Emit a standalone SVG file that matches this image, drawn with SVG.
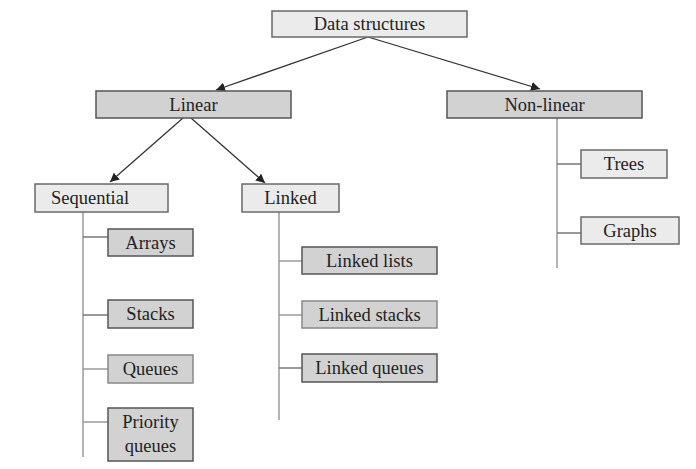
<svg xmlns="http://www.w3.org/2000/svg" width="696" height="469" viewBox="0 0 696 469">
<style>
.l{fill:#ebebeb;stroke:#6a6a6a;stroke-width:1.5}
.d{fill:#d2d2d2;stroke:#555;stroke-width:1.5}
text{font-family:"Liberation Serif","Times New Roman",serif;font-size:18.5px;fill:#222;text-anchor:middle}
.v{stroke:#9a9a9a;stroke-width:1.5;fill:none}
.b{stroke:#777;stroke-width:1.5;fill:none}
.a{stroke:#333;stroke-width:1.3;fill:none;marker-end:url(#ah)}
</style>
<defs>
<marker id="ah" viewBox="0 0 10 10" refX="10" refY="5" markerWidth="9" markerHeight="9" markerUnits="userSpaceOnUse" orient="auto">
<path d="M0,0 L10,5 L0,10 Z" fill="#222"/>
</marker>
</defs>
<g id="connectors">
<line class="a" x1="368" y1="37" x2="216" y2="90"/>
<line class="a" x1="368" y1="37" x2="540" y2="89"/>
<line class="a" x1="183" y1="118" x2="110" y2="182"/>
<line class="a" x1="191" y1="118" x2="265" y2="183"/>
<line class="v" x1="557" y1="118" x2="557" y2="268"/>
<line class="b" x1="557" y1="164" x2="581" y2="164"/>
<line class="b" x1="557" y1="233" x2="581" y2="233"/>
<line class="v" x1="83" y1="211" x2="83" y2="457"/>
<line class="b" x1="83" y1="237" x2="108" y2="237"/>
<line class="b" x1="83" y1="315" x2="108" y2="315"/>
<line class="v" x1="83" y1="369" x2="108" y2="369"/>
<line class="v" x1="83" y1="422" x2="108" y2="422"/>
<line class="v" x1="279" y1="212" x2="279" y2="420"/>
<line class="v" x1="279" y1="261" x2="302" y2="261"/>
<line class="v" x1="279" y1="315" x2="302" y2="315"/>
<line class="b" x1="279" y1="368" x2="302" y2="368"/>
</g>
<g id="data-structures"><rect class="l" x="272" y="11" width="195" height="26"/><text x="369.5" y="30">Data structures</text></g>
<g id="linear"><rect class="d" x="96" y="91" width="195" height="27"/><text x="193.5" y="110.5">Linear</text></g>
<g id="non-linear"><rect class="d" x="447" y="91" width="195" height="27"/><text x="544.5" y="110.5">Non-linear</text></g>
<g id="sequential"><rect class="l" x="35" y="184" width="133" height="28"/><text x="90" y="203.5">Sequential</text></g>
<g id="linked"><rect class="l" x="242" y="184" width="97" height="28"/><text x="290.5" y="204">Linked</text></g>
<g id="trees"><rect class="l" x="581" y="150" width="86" height="28"/><text x="624" y="170">Trees</text></g>
<g id="graphs"><rect class="l" x="581" y="217" width="98" height="27"/><text x="630" y="236.5">Graphs</text></g>
<g id="arrays"><rect class="d" x="108" y="229" width="85" height="27"/><text x="150.5" y="248.5">Arrays</text></g>
<g id="stacks"><rect class="d" x="108" y="300" width="85" height="28"/><text x="150.5" y="320">Stacks</text></g>
<g id="queues"><rect class="d" x="108" y="355" width="85" height="28" style="stroke:#888"/><text x="150.5" y="375">Queues</text></g>
<g id="priority-queues"><rect class="d" x="108" y="408" width="85" height="53"/><text x="150.5" y="428">Priority</text><text x="150.5" y="452">queues</text></g>
<g id="linked-lists"><rect class="d" x="302" y="247" width="135" height="27"/><text x="369.5" y="267">Linked lists</text></g>
<g id="linked-stacks"><rect class="d" x="302" y="301" width="135" height="27" style="stroke:#888"/><text x="369.5" y="321">Linked stacks</text></g>
<g id="linked-queues"><rect class="d" x="302" y="354" width="135" height="28"/><text x="369.5" y="374">Linked queues</text></g>
</svg>
